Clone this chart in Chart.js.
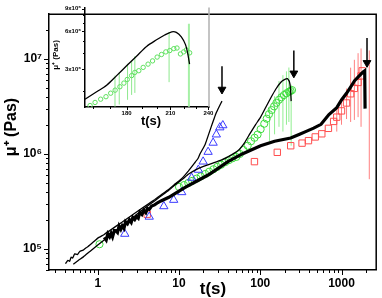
<!DOCTYPE html>
<html><head><meta charset="utf-8">
<script src="https://cdn.jsdelivr.net/npm/chart.js@4/dist/chart.umd.min.js"></script>
<style>
html,body{margin:0;padding:0;background:#fff;}
#wrap{position:relative;width:382px;height:298px;overflow:hidden;}
canvas{position:absolute;left:0;top:0;}
</style>
</head><body>
<div id="wrap">
<canvas id="main" width="382" height="298"></canvas>
<canvas id="inset" width="180" height="130" style="left:40px;top:0px;"></canvas>
</div>
<script>
// ---------------- data ----------------
// main chart: tick labels
const xMajorTicks = [1, 10, 100, 1000];
const yMajorTicks = [1e5, 1e6, 1e7];
const yMajorLabels = ['10\u2075', '10\u2076', '10\u2077'];

// black curve ending at the first arrow (~34 s)
const curveA_t  = [0.40,0.43,0.45,0.47,0.49,0.52,0.56,0.60,0.66,0.72,0.76,0.88,1.0,1.2,1.39,1.7,2.0,2.5,3.0,3.6,4.26,5.0,6.0,7.5,9.0,11,13,15.5,17.2,18.1,20.9,22.8,25,27,28.9,31.5,33.8];
const curveA_mu = [7.0e4,7.6e4,7.4e4,8.2e4,8.0e4,8.9e4,8.7e4,9.4e4,9.7e4,1.03e5,1.06e5,1.18e5,1.30e5,1.42e5,1.55e5,1.75e5,1.92e5,2.2e5,2.45e5,2.72e5,3.0e5,3.3e5,3.7e5,4.25e5,4.85e5,5.6e5,6.6e5,8.0e5,9.0e5,1.0e6,1.25e6,1.55e6,1.95e6,2.35e6,2.74e6,3.2e6,3.6e6];
// black curve with the maximum near 216 s (second arrow)
const curveB_t  = [0.50,0.58,0.66,0.8,1.0,1.2,1.39,1.7,2.0,2.5,3.0,3.6,4.26,5,6.0,7.5,9.0,11,13,16,20,26,33,40,53,64,75,88,101,117,134,155,178,198,216,228,235,240];
const curveB_mu = [6.9e4,7.6e4,8.2e4,9.4e4,1.10e5,1.24e5,1.37e5,1.58e5,1.75e5,2.02e5,2.3e5,2.6e5,2.9e5,3.2e5,3.6e5,4.15e5,4.75e5,5.4e5,6.1e5,6.8e5,7.4e5,8.0e5,8.6e5,9.3e5,1.08e6,1.31e6,1.65e6,2.05e6,2.44e6,3.1e6,3.86e6,4.8e6,5.66e6,6.05e6,6.2e6,5.8e6,5.0e6,3.6e6];
// thick black band ending at the third arrow (~2000 s), noisy at short times
const curveC_t  = [1.2,1.27,1.33,1.4,1.46,1.52,1.6,1.68,1.75,1.83,1.92,2.0,2.1,2.2,2.32,2.45,2.58,2.7,2.85,3.0,3.15,3.3,3.5,3.7,3.9,4.1,4.3,4.6,5.0,5.5,6,7.5,9,11.9,16,22.8,30,40,60,101,150,237,300,380,454,560,700,874,1000,1153,1264,1450,1675,1843,1930,1950];
const curveC_mu = [1.325e5,1.24e5,1.44e5,1.34e5,1.46e5,1.34e5,1.56e5,1.55e5,1.49e5,1.74e5,1.61e5,1.75e5,1.645e5,1.93e5,1.84e5,2.02e5,1.90e5,2.15e5,2.04e5,2.20e5,2.11e5,2.44e5,2.31e5,2.54e5,2.41e5,2.67e5,2.61e5,2.83e5,2.91e5,3.08e5,3.2e5,3.5e5,3.85e5,4.45e5,5.1e5,6.0e5,7.0e5,8.3e5,1.0e6,1.22e6,1.36e6,1.47e6,1.6e6,1.75e6,1.87e6,2.05e6,2.6e6,3.07e6,3.7e6,4.35e6,4.9e6,5.9e6,6.7e6,7.3e6,7.5e6,3.0e6];

// blue open triangles
const triT  = [2.15,4.3,6.5,8.6,10.8,14.3,17.3,19.8,22.8,26.3,28.8,31.8,34.6];
const triMu = [1.44e5,2.18e5,2.81e5,3.28e5,3.95e5,5.6e5,6.8e5,8.3e5,1.05e6,1.31e6,1.6e6,1.9e6,2.0e6];
// green open circles
const circT  = [1.05,10,11.5,13,14.5,16.5,18.5,21,23.5,26.5,29.5,33,37,41,45.5,50.7,56,62,70,77,85,92.7,101,112,120,128,138,148,158,170,182,196,210,226,236,246];
const circMu = [1.12e5,4.5e5,4.7e5,4.95e5,5.2e5,5.5e5,5.8e5,6.15e5,6.5e5,6.9e5,7.3e5,7.7e5,8.2e5,8.6e5,9.0e5,9.3e5,1.0e6,1.1e6,1.22e6,1.36e6,1.48e6,1.6e6,1.82e6,2.08e6,2.35e6,2.62e6,2.9e6,3.17e6,3.45e6,3.72e6,3.95e6,4.17e6,4.35e6,4.52e6,4.6e6,4.7e6];
// green error bars
const gBarT  = [130,150,170,190,210,225,240];
const gBarLo = [1.37e6,1.61e6,1.93e6,1.72e6,2.03e6,2.17e6,1.22e6];
const gBarHi = [3.07e6,4.05e6,5.87e6,6.75e6,7.4e6,8.13e6,5.36e6];
// red open squares
const sqT  = [4.06,84.8,162,237,327,392,475,572,690,800,874,1000,1153,1295,1440,1600,1740,1800];
const sqMu = [2.32e5,8.3e5,1.04e6,1.22e6,1.3e6,1.38e6,1.51e6,1.63e6,1.86e6,2.2e6,2.44e6,2.84e6,3.44e6,4.3e6,4.9e6,5.66e6,6.64e6,7.5e6];
// red error bars
const rBarT  = [874,1000,1153,1295,1440,1600,1740,2198];
const rBarLo = [1.72e6,2.03e6,2.33e6,2.17e6,2.28e6,2.44e6,1.93e6,5.42e5];
const rBarHi = [3.07e6,3.7e6,4.88e6,8.1e6,9.8e6,1.15e7,1.29e7,1.23e7];
// arrows
const arrowT    = [33.8, 259, 2060];
const arrowTop  = [8.4e6, 1.23e7, 1.66e7];
const arrowHead = [4.77e6, 7.06e6, 9.1e6];

// inset chart
const insetXTicks = [180, 210, 240];
const insetYTicks = [3e6, 6e6, 9e6];
const insetYLabels = ['3x10\u2076', '6x10\u2076', '9x10\u2076'];
const insetCurveT  = [155.5,162,167.8,173.8,180,186.4,193.1,200,205.8,211,214.4,218.2,221.5,223.3,224.6];
const insetCurveMu = [1.73e6,1.98e6,2.23e6,2.66e6,3.18e6,3.79e6,4.53e6,5.11e6,5.58e6,5.91e6,5.85e6,5.39e6,4.66e6,3.92e6,3.28e6];
const insetCircT  = [158.3,161.1,164.3,167.4,170.2,172.9,175.8,178.3,180.4,183.2,185.3,187.9,190.8,194.1,197.2,200.4,203.5,206.6,209.5,212.5,214.9,217.5,220.0,222.1,224.7];
const insetCircMu = [1.54e6,1.63e6,1.73e6,1.81e6,1.93e6,2.04e6,2.17e6,2.32e6,2.48e6,2.66e6,2.82e6,2.91e6,3.09e6,3.28e6,3.48e6,3.73e6,3.91e6,4.10e6,4.20e6,4.35e6,4.40e6,3.95e6,4.10e6,4.25e6,4.03e6];
const insetBarT  = [172.8,175.4,180.6,183.2,185.3,209.0];
const insetBarLo = [1.51e6,1.57e6,1.71e6,1.87e6,1.94e6,2.36e6];
const insetBarHi = [2.66e6,2.82e6,3.30e6,3.48e6,3.79e6,5.91e6];
const insetWideBarT  = [224.1];
const insetWideBarLo = [1.51e6];
const insetWideBarHi = [6.84e6];

// ---------------- helpers ----------------
const FONT = "'Liberation Sans', Arial, sans-serif";
const zip = (t, v) => t.map((x, i) => ({x, y: v[i]}));
const bars = (t, lo, hi) => t.flatMap((x, i) => [{x, y: lo[i]}, {x, y: hi[i]}, {x, y: null}]);
function logMinors(min, max) {
  const out = [];
  for (let e = Math.floor(Math.log10(min)); e <= Math.ceil(Math.log10(max)); e++) {
    for (let k = 2; k <= 9; k++) {
      const v = Number((k * Math.pow(10, e)).toPrecision(4));
      if (v >= min && v <= max) out.push(v);
    }
  }
  return out;
}
const near = (a, b) => Math.abs(a - b) / b < 1e-6;

const frame = {
  id: 'frame',
  afterDraw(chart, args, o) {
    const {ctx, chartArea: a, scales: {x, y}} = chart;
    ctx.save();
    // top / right frame
    ctx.strokeStyle = o.frameColor; ctx.lineWidth = o.frameWidth;
    ctx.beginPath();
    if (o.drawTop) { ctx.moveTo(a.left, a.top); ctx.lineTo(a.right, a.top); }
    else { ctx.moveTo(a.right, a.top); }
    ctx.lineTo(a.right, a.bottom);
    ctx.stroke();
    // tick marks
    ctx.strokeStyle = '#000'; ctx.lineWidth = 1;
    ctx.beginPath();
    const xs = o.xMajor.map(v => [v, o.majorLen]).concat(o.xMinor.map(v => [v, o.minorLen]));
    xs.forEach(([v, len]) => {
      const px = Math.round(x.getPixelForValue(v)) + 0.5;
      if (px < a.left - 1 || px > a.right + 1) return;
      ctx.moveTo(px, a.bottom); ctx.lineTo(px, a.bottom + len);
    });
    const ys = o.yMajor.map(v => [v, o.majorLen]).concat(o.yMinor.map(v => [v, o.minorLen]));
    ys.forEach(([v, len]) => {
      const py = Math.round(y.getPixelForValue(v)) + 0.5;
      if (py < a.top - 1 || py > a.bottom + 1) return;
      ctx.moveTo(a.left, py); ctx.lineTo(a.left - len, py);
    });
    ctx.stroke();
    // axis titles
    ctx.fillStyle = '#000';
    ctx.textAlign = 'center'; ctx.textBaseline = 'middle';
    ctx.font = 'bold ' + o.xTitleSize + 'px ' + FONT;
    ctx.fillText(o.xTitle, o.xTitlePos[0], o.xTitlePos[1]);
    ctx.translate(o.yTitlePos[0], o.yTitlePos[1]);
    ctx.rotate(-Math.PI / 2);
    ctx.font = 'bold ' + o.yTitleSize + 'px ' + FONT;
    ctx.fillText(o.yTitle, 0, 0);
    ctx.restore();
  }
};

function axis(min, max, tickVals, labelFn, size, pad, fitProp, fitVal) {
  return {
    type: 'logarithmic', min, max,
    afterBuildTicks: s => { s.ticks = tickVals.map(v => ({value: v})); },
    afterFit: s => { s[fitProp] = fitVal; },
    ticks: {autoSkip: false, maxRotation: 0, minRotation: 0, padding: pad, color: '#000',
            font: {family: FONT, size, weight: 'bold'}, callback: labelFn},
    grid: {display: true, drawOnChartArea: false, drawTicks: false},
    border: {display: true, color: '#000', width: 1.5}
  };
}

// ---------------- main chart ----------------
const lineDs = (t, v, w, tension) => ({data: zip(t, v), borderColor: '#000', borderWidth: w, pointRadius: 0, tension, fill: false, order: 0});
const markDs = (t, v, style, r, color, order) => ({data: zip(t, v), showLine: false, pointStyle: style, pointRadius: r,
  pointBorderColor: color, pointBackgroundColor: 'rgba(0,0,0,0)', pointBorderWidth: 1, borderColor: color, order});
const barDs = (t, lo, hi, color, w, order) => ({data: bars(t, lo, hi), borderColor: color, borderWidth: w, pointRadius: 0, spanGaps: false, tension: 0, order});

new Chart(document.getElementById('main'), {
  type: 'line',
  data: {datasets: [
    lineDs(curveA_t, curveA_mu, 1.3, 0.1),
    lineDs(curveB_t, curveB_mu, 1.3, 0.1),
    lineDs(curveC_t, curveC_mu, 3.2, 0),
    barDs(arrowT, arrowHead, arrowTop, '#000', 1.5, 0),
    {data: zip(arrowT, arrowHead), showLine: false, pointStyle: 'triangle', pointRadius: 4.5, pointRotation: 180,
     pointBackgroundColor: '#000', pointBorderColor: '#000', borderColor: '#000', order: 0},
    markDs(triT, triMu, 'triangle', 4.8, '#3a3aff', 1),
    markDs(circT, circMu, 'circle', 3.6, '#3ddc3d', 1),
    markDs(sqT, sqMu, 'rect', 4.5, '#ff4d4d', 1),
    barDs(gBarT, gBarLo, gBarHi, '#90ee90', 1, 2),
    barDs(rBarT, rBarLo, rBarHi, '#ff8080', 1, 2)
  ]},
  options: {
    responsive: false, animation: false, devicePixelRatio: 1,
    layout: {padding: {top: 2, right: 2, left: 0, bottom: 0}},
    plugins: {legend: {display: false}, tooltip: {enabled: false},
      frame: {frameColor: '#000', frameWidth: 1.5, drawTop: true,
        xMajor: xMajorTicks, xMinor: logMinors(0.25, 2700), yMajor: yMajorTicks, yMinor: logMinors(6e4, 2.96e7),
        majorLen: 5, minorLen: 3,
        xTitle: 't(s)', xTitleSize: 17, xTitlePos: [213, 289],
        yTitle: '\u03bc\u207a (Pas)', yTitleSize: 16, yTitlePos: [12, 127]}},
    scales: {
      x: axis(0.251, 2673, xMajorTicks.concat(logMinors(0.25, 2700)),
        v => xMajorTicks.some(m => near(v, m)) ? String(v) : '', 12, 6, 'height', 28),
      y: axis(6.0e4, 2.96e7, yMajorTicks.concat(logMinors(6e4, 2.96e7)),
        v => { const i = yMajorTicks.findIndex(m => near(v, m)); return i >= 0 ? yMajorLabels[i] : ''; }, 12, 7, 'width', 49)
    }
  },
  plugins: [frame]
});

// ---------------- inset chart ----------------
new Chart(document.getElementById('inset'), {
  type: 'line',
  data: {datasets: [
    lineDs(insetCurveT, insetCurveMu, 1.3, 0.3),
    markDs(insetCircT, insetCircMu, 'circle', 2.2, '#5ee05e', 1),
    barDs(insetBarT, insetBarLo, insetBarHi, '#8ee88e', 1, 2),
    barDs(insetWideBarT, insetWideBarLo, insetWideBarHi, '#a6f0a6', 2, 2)
  ]},
  options: {
    responsive: false, animation: false, devicePixelRatio: 1,
    layout: {padding: {top: 5, right: 11, left: 0, bottom: 0}},
    plugins: {legend: {display: false}, tooltip: {enabled: false},
      frame: {frameColor: '#b0b0b0', frameWidth: 1.5, drawTop: false,
        xMajor: insetXTicks, xMinor: [160, 170, 190, 200, 220, 230], yMajor: insetYTicks, yMinor: [2e6, 4e6, 5e6, 7e6, 8e6],
        majorLen: 3, minorLen: 2,
        xTitle: 't(s)', xTitleSize: 13, xTitlePos: [111, 121],
        yTitle: '\u03bc\u207a (Pas)', yTitleSize: 8, yTitlePos: [16, 55]}},
    scales: {
      x: axis(155.5, 240.5, insetXTicks,
        v => String(v), 6, 3, 'height', 23),
      y: axis(1.5e6, 9.2e6, insetYTicks,
        v => { const i = insetYTicks.findIndex(m => near(v, m)); return i >= 0 ? insetYLabels[i] : ''; }, 6, 4, 'width', 45)
    }
  },
  plugins: [frame]
});
</script>
</body></html>
